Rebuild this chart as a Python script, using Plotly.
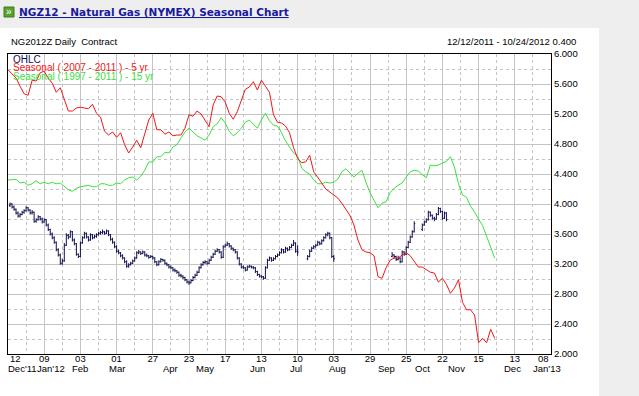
import plotly.graph_objects as go

# ---------------- data ----------------
# Tick labels (every 18 trading days from 12 Dec 2011)
day_labels = ["12", "09", "03", "01", "27", "23", "17", "13", "10", "03",
              "29", "25", "22", "15", "13", "08"]
month_labels = ["Dec'11", "Jan'12", "Feb", "Mar", "Apr", "May", "Jun", "Jul",
                "Aug", "Sep", "Oct", "Nov", "Dec", "Jan'13"]
month_label_day = [7, 21.5, 36, 54, 81, 98, 124, 143, 164, 188, 206, 223, 251, 268]

# Seasonal curves, one value every 2 trading days starting 12 Dec 2011
seasonal_5yr = [5.79, 5.73, 5.68, 5.57, 5.47, 5.45, 5.65, 5.64, 5.75, 5.77,
                5.68, 5.61, 5.49, 5.55, 5.39, 5.24, 5.24, 5.28, 5.29, 5.28,
                5.27, 5.33, 5.21, 5.16, 4.97, 4.92, 4.96, 4.89, 4.95, 4.79,
                4.68, 4.76, 4.85, 4.75, 4.92, 5.12, 5.21, 4.99, 4.99, 4.93,
                4.96, 4.91, 4.92, 4.92, 5.01, 5.19, 5.17, 5.24, 5.20, 5.12,
                5.03, 5.32, 5.44, 5.43, 5.36, 5.21, 5.13, 5.23, 5.39, 5.53,
                5.56, 5.63, 5.52, 5.65, 5.57, 5.49, 5.19, 5.09, 5.08, 5.04,
                4.95, 4.75, 4.61, 4.55, 4.56, 4.65, 4.43, 4.36, 4.28, 4.20,
                4.16, 4.12, 4.08, 4.01, 3.93, 3.85, 3.72, 3.52, 3.39, 3.36,
                3.35, 3.31, 3.03, 3.01, 3.15, 3.25, 3.28, 3.28, 3.32, 3.35,
                3.31, 3.23, 3.16, 3.16, 3.12, 3.09, 3.08, 2.96, 3.01, 2.93,
                2.81, 2.88, 2.99, 2.69, 2.59, 2.59, 2.52, 2.15, 2.21, 2.15,
                2.33, 2.21]
seasonal_15yr = [4.32, 4.32, 4.33, 4.28, 4.29, 4.25, 4.27, 4.31, 4.27, 4.29,
                 4.27, 4.29, 4.27, 4.28, 4.24, 4.19, 4.17, 4.21, 4.23, 4.24,
                 4.25, 4.23, 4.23, 4.27, 4.27, 4.25, 4.25, 4.28, 4.27, 4.32,
                 4.35, 4.36, 4.32, 4.37, 4.45, 4.56, 4.56, 4.63, 4.63, 4.69,
                 4.68, 4.76, 4.79, 4.88, 4.96, 5.01, 4.96, 4.91, 4.88, 4.85,
                 4.92, 5.03, 5.07, 5.15, 5.08, 4.97, 4.91, 4.95, 5.01, 5.09,
                 5.12, 5.07, 5.01, 5.12, 5.21, 5.11, 5.05, 5.04, 4.95, 4.84,
                 4.76, 4.68, 4.64, 4.48, 4.43, 4.40, 4.32, 4.27, 4.27, 4.29,
                 4.28, 4.29, 4.33, 4.43, 4.47, 4.41, 4.36, 4.41, 4.45, 4.29,
                 4.15, 4.05, 3.95, 4.01, 4.03, 4.15, 4.21, 4.25, 4.28, 4.36,
                 4.43, 4.45, 4.44, 4.39, 4.35, 4.52, 4.51, 4.52, 4.55, 4.57,
                 4.63, 4.49, 4.27, 4.12, 4.09, 3.97, 3.89, 3.80, 3.71, 3.57,
                 3.41, 3.28]
seasonal_step_days = 2

# Daily OHLC of NG2012Z (trading day 1 = 13 Dec 2011); None = no bar
ohlc_first_day = 1
ohlc_open = [3.98, 4.00, 3.96, 3.93, 3.88, 3.84, 3.86, 3.89, 3.91, 3.95,
             3.92, 3.88, 3.89, 3.77, 3.79, 3.83, 3.80, 3.76, 3.79, 3.72,
             3.66, 3.60, 3.55, 3.49, 3.39, 3.32, 3.21, 3.24, 3.45, 3.58,
             3.56, 3.63, 3.52, 3.47, 3.33, 3.30, 3.48, 3.55, 3.61, 3.56,
             3.52, 3.59, 3.55, 3.57, 3.59, 3.61, 3.62, 3.63, 3.61, 3.64,
             3.59, 3.53, 3.49, 3.43, 3.37, 3.35, 3.31, 3.28, 3.23, 3.17,
             3.19, 3.21, 3.24, 3.28, 3.35, 3.36, 3.34, 3.36, 3.32, 3.31,
             3.29, 3.30, 3.28, 3.23, 3.19, 3.23, 3.26, 3.25, 3.21, 3.19,
             3.16, 3.15, 3.12, 3.11, 3.09, 3.05, 3.04, 3.02, 2.99, 2.96,
             2.95, 2.98, 3.02, 3.05, 3.09, 3.15, 3.19, 3.22, 3.23, 3.21,
             3.25, 3.29, 3.33, 3.37, 3.39, 3.36, 3.29, 3.43, 3.45, 3.47,
             3.44, 3.41, 3.39, 3.36, 3.28, 3.20, 3.16, 3.15, 3.12, 3.16,
             3.17, 3.16, 3.15, 3.10, 3.06, 3.04, 3.03, 3.01, 3.15, 3.25,
             3.28, 3.25, 3.27, 3.30, 3.32, 3.35, 3.39, 3.36, 3.41, 3.39,
             3.42, 3.45, 3.48, 3.37,
             None, None, None, None,
             3.27, 3.30, 3.37, 3.41, 3.43, 3.45, 3.49, 3.47, 3.51, 3.55,
             3.59, 3.61, 3.55, 3.30,
             None, None, None, None, None, None, None, None, None, None,
             None, None, None, None, None, None, None, None, None, None,
             None, None, None, None, None, None, None, None,
             3.30, 3.32, 3.30, 3.26, 3.28, 3.23, 3.36, 3.33, 3.42, 3.49,
             3.56, 3.63,
             None, None, None,
             3.66, 3.72, 3.76, 3.79, 3.89, 3.85, 3.81, 3.80, 3.86, 3.94,
             3.90, 3.81, 3.88]
ohlc_high = [4.02, 4.01, 3.98, 3.94, 3.90, 3.88, 3.91, 3.93, 3.97, 3.96,
             3.93, 3.92, 3.90, 3.81, 3.85, 3.84, 3.82, 3.81, 3.80, 3.74,
             3.67, 3.62, 3.57, 3.50, 3.41, 3.34, 3.27, 3.48, 3.61, 3.60,
             3.65, 3.64, 3.54, 3.48, 3.34, 3.50, 3.57, 3.63, 3.62, 3.57,
             3.61, 3.60, 3.59, 3.61, 3.63, 3.64, 3.66, 3.64, 3.66, 3.65,
             3.60, 3.55, 3.50, 3.45, 3.39, 3.36, 3.33, 3.29, 3.25, 3.21,
             3.23, 3.26, 3.30, 3.37, 3.39, 3.37, 3.38, 3.37, 3.34, 3.32,
             3.32, 3.31, 3.29, 3.24, 3.25, 3.28, 3.27, 3.26, 3.22, 3.20,
             3.18, 3.16, 3.14, 3.12, 3.10, 3.07, 3.05, 3.03, 3.00, 2.98,
             3.00, 3.04, 3.07, 3.11, 3.17, 3.21, 3.24, 3.25, 3.24, 3.27,
             3.31, 3.35, 3.39, 3.41, 3.40, 3.37, 3.45, 3.47, 3.50, 3.48,
             3.45, 3.42, 3.40, 3.37, 3.29, 3.21, 3.18, 3.16, 3.18, 3.19,
             3.18, 3.17, 3.16, 3.11, 3.07, 3.05, 3.04, 3.17, 3.27, 3.30,
             3.29, 3.29, 3.32, 3.34, 3.37, 3.41, 3.40, 3.43, 3.42, 3.44,
             3.47, 3.52, 3.49, 3.45,
             None, None, None, None,
             3.32, 3.39, 3.43, 3.45, 3.47, 3.51, 3.50, 3.53, 3.57, 3.61,
             3.63, 3.62, 3.56, 3.32,
             None, None, None, None, None, None, None, None, None, None,
             None, None, None, None, None, None, None, None, None, None,
             None, None, None, None, None, None, None, None,
             3.36, 3.33, 3.31, 3.31, 3.29, 3.38, 3.37, 3.44, 3.51, 3.58,
             3.65, 3.77,
             None, None, None,
             3.74, 3.78, 3.81, 3.91, 3.90, 3.86, 3.83, 3.88, 3.96, 3.95,
             3.91, 3.90, 3.89]
ohlc_low = [3.96, 3.94, 3.91, 3.86, 3.82, 3.82, 3.85, 3.87, 3.90, 3.90,
            3.86, 3.86, 3.75, 3.75, 3.78, 3.78, 3.74, 3.75, 3.70, 3.64,
            3.58, 3.53, 3.47, 3.37, 3.30, 3.19, 3.19, 3.23, 3.44, 3.53,
            3.55, 3.50, 3.45, 3.31, 3.28, 3.29, 3.47, 3.54, 3.54, 3.50,
            3.51, 3.53, 3.54, 3.55, 3.58, 3.59, 3.60, 3.59, 3.60, 3.57,
            3.51, 3.47, 3.41, 3.35, 3.33, 3.29, 3.26, 3.21, 3.15, 3.15,
            3.18, 3.20, 3.23, 3.27, 3.33, 3.32, 3.33, 3.30, 3.29, 3.27,
            3.28, 3.26, 3.21, 3.17, 3.18, 3.22, 3.23, 3.19, 3.17, 3.14,
            3.13, 3.10, 3.09, 3.07, 3.03, 3.02, 3.00, 2.97, 2.94, 2.92,
            2.94, 2.97, 3.01, 3.04, 3.08, 3.14, 3.18, 3.20, 3.19, 3.20,
            3.24, 3.28, 3.32, 3.36, 3.34, 3.27, 3.28, 3.42, 3.44, 3.42,
            3.39, 3.37, 3.34, 3.26, 3.18, 3.14, 3.13, 3.10, 3.11, 3.15,
            3.14, 3.13, 3.08, 3.04, 3.02, 3.01, 2.99, 3.00, 3.14, 3.24,
            3.23, 3.24, 3.26, 3.29, 3.31, 3.34, 3.34, 3.35, 3.37, 3.38,
            3.41, 3.44, 3.35, 3.31,
            None, None, None, None,
            3.25, 3.29, 3.36, 3.40, 3.42, 3.44, 3.45, 3.46, 3.50, 3.54,
            3.57, 3.53, 3.28, 3.23,
            None, None, None, None, None, None, None, None, None, None,
            None, None, None, None, None, None, None, None, None, None,
            None, None, None, None, None, None, None, None,
            3.29, 3.27, 3.24, 3.25, 3.21, 3.22, 3.31, 3.32, 3.41, 3.48,
            3.55, 3.62,
            None, None, None,
            3.64, 3.71, 3.75, 3.78, 3.83, 3.79, 3.77, 3.79, 3.85, 3.88,
            3.79, 3.80, 3.77]
ohlc_close = [4.00, 3.96, 3.93, 3.88, 3.84, 3.86, 3.89, 3.91, 3.95, 3.92,
              3.88, 3.89, 3.77, 3.79, 3.83, 3.80, 3.76, 3.79, 3.72, 3.66,
              3.60, 3.55, 3.49, 3.39, 3.32, 3.21, 3.24, 3.45, 3.58, 3.56,
              3.63, 3.52, 3.47, 3.33, 3.30, 3.48, 3.55, 3.61, 3.56, 3.52,
              3.59, 3.55, 3.57, 3.59, 3.61, 3.62, 3.63, 3.61, 3.64, 3.59,
              3.53, 3.49, 3.43, 3.37, 3.35, 3.31, 3.28, 3.23, 3.17, 3.19,
              3.21, 3.24, 3.28, 3.35, 3.36, 3.34, 3.36, 3.32, 3.31, 3.29,
              3.30, 3.28, 3.23, 3.19, 3.23, 3.26, 3.25, 3.21, 3.19, 3.16,
              3.15, 3.12, 3.11, 3.09, 3.05, 3.04, 3.02, 2.99, 2.96, 2.95,
              2.98, 3.02, 3.05, 3.09, 3.15, 3.19, 3.22, 3.23, 3.21, 3.25,
              3.29, 3.33, 3.37, 3.39, 3.36, 3.29, 3.43, 3.45, 3.47, 3.44,
              3.41, 3.39, 3.36, 3.28, 3.20, 3.16, 3.15, 3.12, 3.16, 3.17,
              3.16, 3.15, 3.10, 3.06, 3.04, 3.03, 3.01, 3.15, 3.25, 3.28,
              3.25, 3.27, 3.30, 3.32, 3.35, 3.39, 3.36, 3.41, 3.39, 3.42,
              3.45, 3.48, 3.37, 3.36,
              None, None, None, None,
              3.30, 3.37, 3.41, 3.43, 3.45, 3.49, 3.47, 3.51, 3.55, 3.59,
              3.61, 3.55, 3.30, 3.27,
              None, None, None, None, None, None, None, None, None, None,
              None, None, None, None, None, None, None, None, None, None,
              None, None, None, None, None, None, None, None,
              3.32, 3.30, 3.26, 3.28, 3.23, 3.36, 3.33, 3.42, 3.49, 3.56,
              3.63, 3.74,
              None, None, None,
              3.72, 3.76, 3.79, 3.89, 3.85, 3.81, 3.80, 3.86, 3.94, 3.90,
              3.81, 3.88, 3.79]

# ---------------- styling ----------------
W, H = 639, 396
ML, MR, MT, MB = 8, 88, 54, 42
PW, PH = W - ML - MR, H - MT - MB
NAVY = "#101050"
RED = "#f01818"
GREEN = "#3ce03c"
GRID = "#c4c4c4"
FONT = "Liberation Sans, Arial, sans-serif"
FS = 9.5
TICK_STEP = 18


def px_x(p):  # pixel -> paper x
    return (p - ML) / PW


def px_y(p):  # pixel -> paper y
    return (H - MB - p) / PH


fig = go.Figure()

fig.add_trace(go.Scatter(x=[i * seasonal_step_days for i in range(len(seasonal_15yr))],
                         y=seasonal_15yr, mode="lines",
                         line=dict(color=GREEN, width=1), hoverinfo="skip",
                         showlegend=False))
fig.add_trace(go.Scatter(x=[i * seasonal_step_days for i in range(len(seasonal_5yr))],
                         y=seasonal_5yr, mode="lines",
                         line=dict(color=RED, width=1), hoverinfo="skip",
                         showlegend=False))
ohlc_days = list(range(ohlc_first_day, ohlc_first_day + len(ohlc_close)))
fig.add_trace(go.Ohlc(x=ohlc_days, open=ohlc_open, high=ohlc_high,
                      low=ohlc_low, close=ohlc_close, tickwidth=0.5,
                      increasing=dict(line=dict(color=NAVY, width=1)),
                      decreasing=dict(line=dict(color=NAVY, width=1)),
                      hoverinfo="skip", showlegend=False))

n_ticks = len(day_labels)
x_max = TICK_STEP * (n_ticks - 1)
# inner tick labels on the axis; the two edge labels are drawn flush inside
inner_text = [""] + day_labels[1:-1] + [""]
fig.update_xaxes(range=[0, x_max], automargin=False,
                 tickmode="array",
                 tickvals=[TICK_STEP * i for i in range(n_ticks)],
                 ticktext=inner_text, ticks="", showgrid=True,
                 gridcolor=GRID, gridwidth=1, zeroline=False,
                 showline=True, linecolor="black", linewidth=1, mirror=True,
                 tickfont=dict(family=FONT, size=FS, color="black"),
                 ticklabelstandoff=-4,
                 minor=dict(tick0=TICK_STEP / 2, dtick=TICK_STEP,
                            showgrid=True, griddash="dot",
                            gridcolor=GRID, gridwidth=1),
                 rangeslider=dict(visible=False), fixedrange=True)
fig.update_yaxes(range=[2, 6], tick0=2, dtick=0.4, tickformat=".3f",
                 automargin=False, side="right", ticks="", showgrid=True,
                 gridcolor=GRID, gridwidth=1, zeroline=False, showline=True,
                 linecolor="black", linewidth=1, mirror=True,
                 tickfont=dict(family=FONT, size=FS, color="black"),
                 minor=dict(tick0=2.2, dtick=0.4, showgrid=True,
                            griddash="dot", gridcolor=GRID, gridwidth=1),
                 fixedrange=True)

shapes = [
    # white chart panel
    dict(type="rect", xref="paper", yref="paper", layer="below",
         x0=px_x(0), x1=px_x(599), y0=px_y(H), y1=px_y(28),
         fillcolor="white", line=dict(width=0)),
    # title icon
    dict(type="rect", xref="paper", yref="paper",
         x0=px_x(4), x1=px_x(14), y0=px_y(17), y1=px_y(7),
         fillcolor="#58a030", line=dict(color="#3c7a1c", width=1)),
]


def note(text, x, y, xanchor, size, color, family=FONT):
    return dict(text=text, x=x, y=y, xref="paper", yref="paper",
                xanchor=xanchor, yanchor="middle", showarrow=False,
                font=dict(family=family, size=size, color=color))


annotations = [
    note("»", px_x(9), px_y(11.5), "center", 10, "white"),
    note("<b><u>NGZ12 - Natural Gas (NYMEX) Seasonal Chart</u></b>",
         px_x(17), px_y(12), "left", 10.5, "#1a1a9c",
         family="DejaVu Sans, Verdana, sans-serif"),
    note("NG2012Z Daily  Contract", px_x(9), px_y(42), "left", FS, "black"),
    note("12/12/2011 - 10/24/2012 0.400", px_x(578), px_y(42), "right",
         FS, "black"),
    note("OHLC", px_x(11), px_y(59.5), "left", FS + 0.5, NAVY),
    note("Seasonal ( 2007 - 2011 ) - 5 yr", px_x(11), px_y(68), "left",
         FS + 0.5, RED),
    note("Seasonal ( 1997 - 2011 ) - 15 yr", px_x(11), px_y(76.5), "left",
         FS + 0.5, GREEN),
]
# edge day labels, kept inside the plot width like the original
annotations.append(dict(text=day_labels[0], x=0, xref="x", y=px_y(358.5),
                        yref="paper", xanchor="left", yanchor="middle",
                        showarrow=False,
                        font=dict(family=FONT, size=FS, color="black")))
annotations.append(dict(text=day_labels[-1], x=x_max, xref="x", y=px_y(358.5),
                        yref="paper", xanchor="right", yanchor="middle",
                        showarrow=False,
                        font=dict(family=FONT, size=FS, color="black")))
for lab, d in zip(month_labels, month_label_day):
    annotations.append(dict(text=lab, x=d, xref="x", y=px_y(368), yref="paper",
                            xanchor="center", yanchor="middle",
                            showarrow=False,
                            font=dict(family=FONT, size=FS, color="black")))

fig.update_layout(width=W, height=H, margin=dict(l=ML, r=MR, t=MT, b=MB),
                  paper_bgcolor="#eeeeee", plot_bgcolor="white",
                  shapes=shapes, annotations=annotations, showlegend=False,
                  hovermode=False)

fig.write_html("out.html", config={"displayModeBar": False},
               post_script="document.body.style.margin='0';")
